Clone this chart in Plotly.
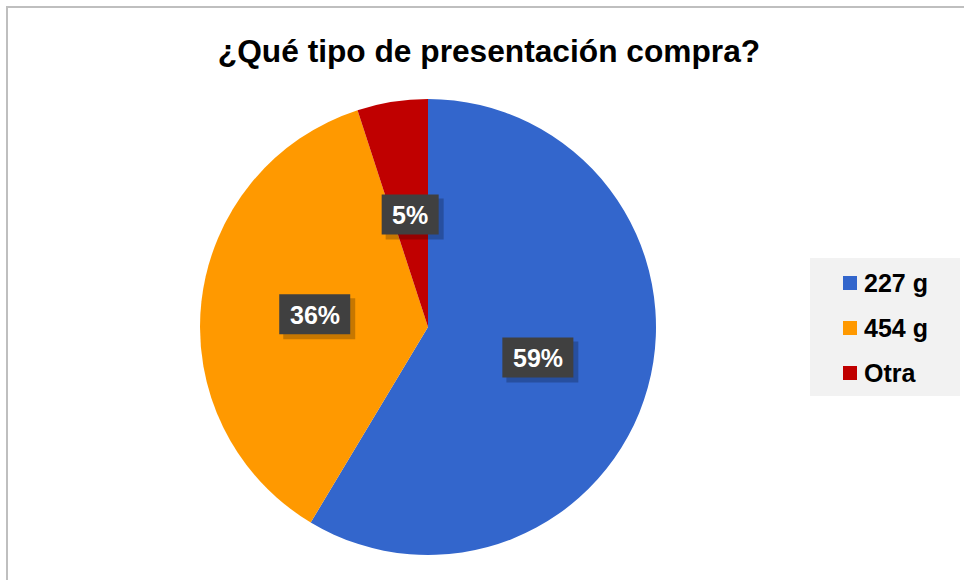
import math
import plotly.graph_objects as go

# Data (shares; labels show rounded %)
labels = ['227 g', '454 g', 'Otra']
values = [58.6, 36.4, 5.0]
colors = ['#3366CC', '#FF9900', '#C00000']

W, H = 964, 580
TITLE = '¿Qué tipo de presentación compra?'
FONT = 'Liberation Sans, Arial, sans-serif'

# pie geometry in pixels
cx, cy, r = 428, 327, 228


def px(x):
    return x / W


def py(y):
    return 1 - y / H


fig = go.Figure()
fig.add_trace(go.Pie(
    labels=labels, values=values, sort=False, direction='clockwise', rotation=0,
    marker=dict(colors=colors, line=dict(width=0)),
    textinfo='none', hoverinfo='label+percent', showlegend=False,
    domain=dict(x=[px(cx - r), px(cx + r)], y=[py(cy + r), py(cy - r)]),
))

# dark label boxes at half radius on each slice's mid-angle
total = sum(values)
cum = 0
for v in values:
    mid = (cum + v / 2) / total * 2 * math.pi
    cum += v
    lx = cx + 0.5 * r * math.sin(mid)
    ly = cy - 0.5 * r * math.cos(mid)
    txt = f'{round(v / total * 100)}%'
    bw, bh = 14 * len(txt) + 29, 40
    # shadow, then box
    fig.add_shape(type='rect', xref='paper', yref='paper', xsizemode='pixel', ysizemode='pixel',
                  xanchor=px(lx), yanchor=py(ly), x0=-bw / 2 + 4, x1=bw / 2 + 5, y0=-bh / 2 - 5, y1=bh / 2 - 4,
                  fillcolor='rgba(0,0,0,0.22)', line=dict(width=0))
    fig.add_shape(type='rect', xref='paper', yref='paper', xsizemode='pixel', ysizemode='pixel',
                  xanchor=px(lx), yanchor=py(ly), x0=-bw / 2, x1=bw / 2, y0=-bh / 2, y1=bh / 2,
                  fillcolor='#404040', line=dict(width=0))
    fig.add_annotation(x=px(lx), y=py(ly + 1), xref='paper', yref='paper', text=f'<b>{txt}</b>',
                       xanchor='center', yanchor='middle', showarrow=False,
                       font=dict(family=FONT, size=25, color='white'))

# legend drawn by hand (Excel-like spacing)
fig.add_shape(type='rect', xref='paper', yref='paper', x0=px(810), x1=px(960), y0=py(396), y1=py(258),
              fillcolor='#F2F2F2', line=dict(width=0), layer='below')
for i, (lab, col) in enumerate(zip(labels, colors)):
    ry = 283 + 45 * i
    fig.add_shape(type='rect', xref='paper', yref='paper', xsizemode='pixel', ysizemode='pixel',
                  xanchor=px(850), yanchor=py(ry), x0=-7, x1=7, y0=-7, y1=7,
                  fillcolor=col, line=dict(width=0))
    fig.add_annotation(x=px(862), y=py(ry), xref='paper', yref='paper', text=f'<b>{lab}</b>',
                       xanchor='left', yanchor='middle', showarrow=False,
                       font=dict(family=FONT, size=25, color='black'))

# chart border
fig.add_shape(type='rect', xref='paper', yref='paper', x0=px(7), y0=-0.02, x1=1.02, y1=py(7),
              line=dict(color='#BFBFBF', width=2), layer='below')

fig.update_layout(
    width=W, height=H,
    margin=dict(l=0, r=0, t=0, b=0),
    paper_bgcolor='white', plot_bgcolor='white',
    font=dict(family=FONT, color='black'),
    title=dict(text=f'<b>{TITLE}</b>', x=px(489), xanchor='center', y=py(51), yanchor='middle',
               font=dict(family=FONT, size=31.7, color='black')),
    showlegend=False,
)

fig.write_html('out.html', config={'displayModeBar': False},
               post_script="document.body.style.margin='0';")
